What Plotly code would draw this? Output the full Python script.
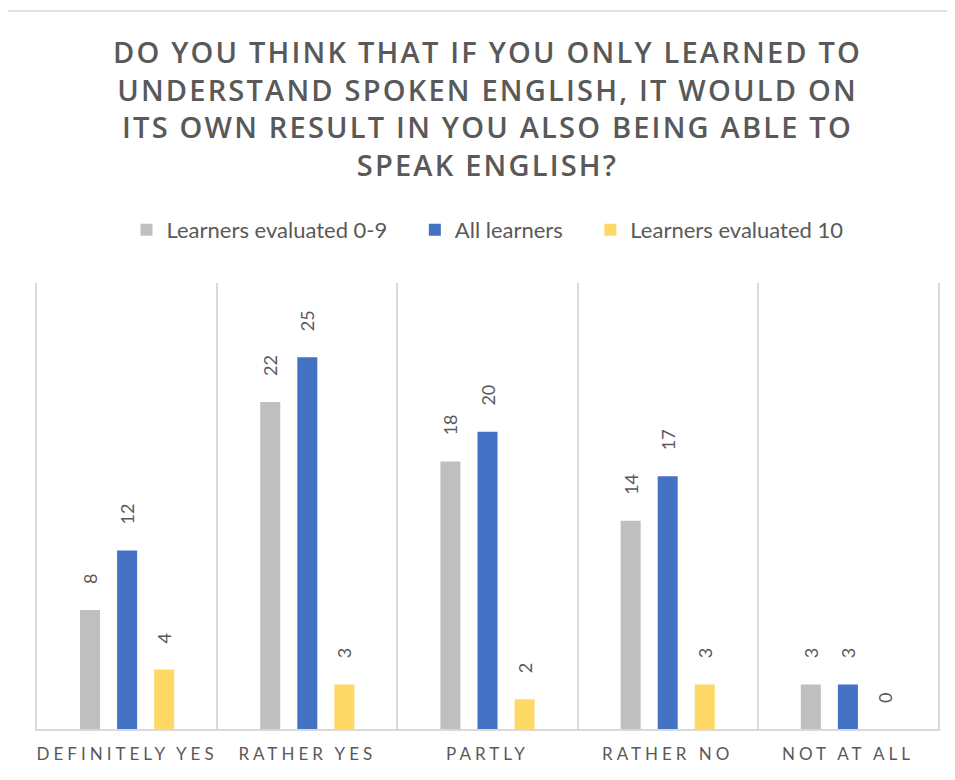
import plotly.graph_objects as go

categories = ["DEFINITELY YES", "RATHER YES", "PARTLY", "RATHER NO", "NOT AT ALL"]
series_names = ["Learners evaluated 0-9", "All learners", "Learners evaluated 10"]
values_0_9 = [8, 22, 18, 14, 3]
values_all = [12, 25, 20, 17, 3]
values_10 = [4, 3, 2, 3, 0]
colors = ["#BFBFBF", "#4472C4", "#FFD966"]
title_lines = [
    "DO YOU THINK THAT IF YOU ONLY LEARNED TO",
    "UNDERSTAND SPOKEN ENGLISH, IT WOULD ON",
    "ITS OWN RESULT IN YOU ALSO BEING ABLE TO",
    "SPEAK ENGLISH?",
]

TXT = "#595959"
GRID = "#D9D9D9"
W, H = 947, 772
NB = "\u00a0"


def spaced(s, px):
    return f"<span style='letter-spacing:{px}px'>{s}</span>"


fig = go.Figure()
series = [values_0_9, values_all, values_10]
for i, (name, vals, col) in enumerate(zip(series_names, series, colors)):
    pad = NB * 4 if i < len(series_names) - 1 else ""
    fig.add_trace(go.Bar(
        x=categories, y=vals, name=name + pad,
        marker=dict(color=col, line=dict(width=0)),
        text=[NB * 5 + str(v) for v in vals],
        textposition="outside", constraintext="none",
        textangle=-90, cliponaxis=False,
        textfont=dict(family="Lato", size=18, color=TXT),
    ))

fig.update_layout(
    width=W, height=H,
    margin=dict(l=29, r=17, t=275, b=51, autoexpand=False),
    paper_bgcolor="white", plot_bgcolor="white",
    barmode="group", bargap=0.383, bargroupgap=0.46,
    title=dict(
        text="<br>".join(spaced(l, 2.2) for l in title_lines),
        x=0.5, xref="paper", xanchor="center",
        y=1 - 55 / H, yref="container", yanchor="top",
        font=dict(family="Open Sans", size=29, color=TXT, weight=600),
    ),
    legend=dict(
        orientation="h", x=0.5, xanchor="center", y=1.119, yanchor="middle",
        font=dict(family="Lato", size=22, color=TXT),
        itemwidth=30, traceorder="normal",
    ),
    xaxis=dict(
        tickmode="array", tickvals=categories,
        ticktext=[spaced(c, 4) for c in categories],
        tickangle=0, automargin=False,
        tickson="boundaries", ticks="", showgrid=True, gridcolor=GRID, gridwidth=1.5,
        showline=True, linecolor=GRID, linewidth=1.5,
        tickfont=dict(family="Lato", size=17, color=TXT),
        ticklabelstandoff=9,
    ),
    yaxis=dict(
        range=[0, 30], showticklabels=False, showgrid=False, zeroline=False,
        showline=True, mirror=True, linecolor=GRID, linewidth=1.5, ticks="",
        automargin=False,
    ),
    shapes=[dict(
        type="rect", xref="paper", yref="paper",
        x0=-0.0333, x1=1.2, y0=-0.3, y1=1.610,
        line=dict(color=GRID, width=1.5), layer="below",
    )],
)

fig.write_html("out.html")
